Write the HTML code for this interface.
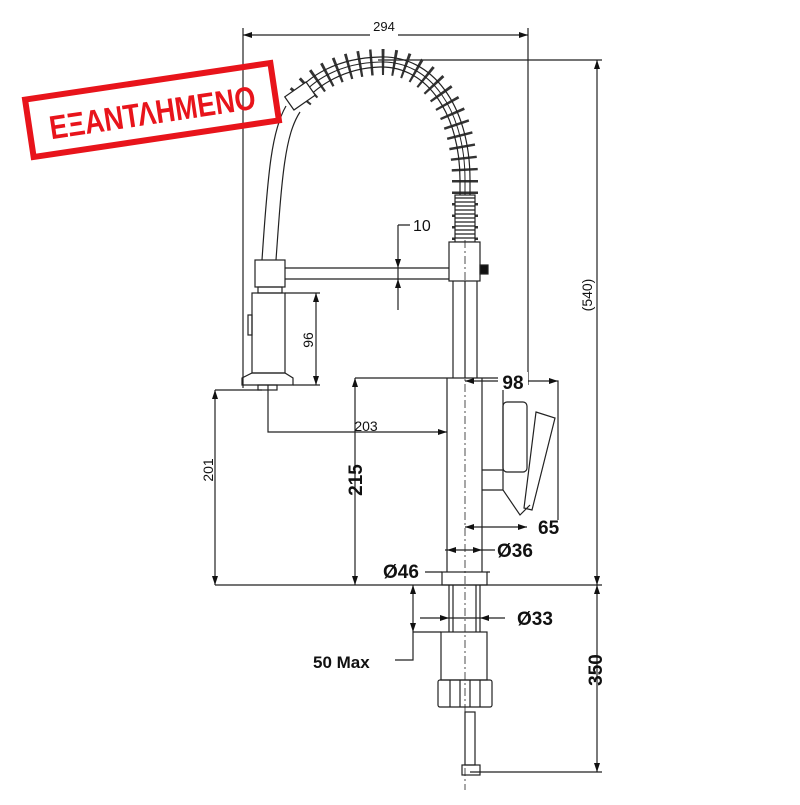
<!DOCTYPE html>
<html><head><style>html,body{margin:0;padding:0;background:#fff}</style></head><body>
<svg width="800" height="800" viewBox="0 0 800 800" xmlns="http://www.w3.org/2000/svg" font-family="Liberation Sans, Arial, sans-serif">
<g stroke="#222" fill="none" stroke-width="1.2">
<line x1="243" y1="28" x2="243" y2="388"/>
<line x1="528" y1="28" x2="528" y2="385"/>
<line x1="243" y1="35" x2="528" y2="35"/>
<line x1="378" y1="60" x2="602" y2="60"/>
<line x1="597" y1="60" x2="597" y2="772"/>
<line x1="215" y1="585" x2="602" y2="585"/>
<line x1="470" y1="772" x2="602" y2="772"/>
<path d="M465,240 L465,180 C465,110 430,60 380,62 C340,63 312,80 298,100" stroke="#333" stroke-width="26" stroke-dasharray="2.5 9"/>
<path d="M465,240 L465,180 C465,110 430,60 380,62 C340,63 312,80 298,100" stroke-width="1"/>
<path d="M460,240 L460,180 C460,115 428,66 380,67 C345,68 318,85 304,102"/>
<path d="M470,240 L470,180 C470,105 432,55 380,57 C338,58 308,75 292,98"/>
<rect x="455" y="195" width="20" height="47" fill="#fff"/>
<path d="M455,198 H475 M455,202 H475 M455,206 H475 M455,210 H475 M455,214 H475 M455,218 H475 M455,222 H475 M455,226 H475 M455,230 H475 M455,234 H475 M455,238 H475"/>
<g transform="translate(300,96) rotate(-35)"><rect x="-13" y="-8" width="26" height="16" fill="#fff"/></g>
<path d="M286,106 C272,130 268,170 262,260"/>
<path d="M300,112 C285,135 282,175 276,260"/>
<rect x="449" y="242" width="31" height="39" fill="#fff"/>
<rect x="480" y="265" width="8" height="9" fill="#111"/>
<rect x="255" y="260" width="30" height="27" fill="#fff"/>
<path d="M285,268 H449 M285,279 H449"/>
<rect x="258" y="287" width="24" height="6"/>
<rect x="252" y="293" width="33" height="80"/>
<rect x="248" y="315" width="4" height="20"/>
<path d="M252,373 H285 L293,378 V385 H242 V378 Z"/>
<rect x="258" y="385" width="19" height="5"/>
<path d="M453,281 V378 M465,281 V378 M477,281 V378"/>
<path d="M447,378 V572 M482,378 V572 M447,378 H482"/>
<path d="M482,378 H503 V470 H482 M482,490 H503"/>
<rect x="503" y="402" width="24" height="70" rx="4"/>
<path d="M536,412 L555,418 L532,510 L524,508 Z"/>
<path d="M503,470 V490 L520,515 L530,505"/>
<rect x="442" y="572" width="45" height="13"/>
<path d="M449,585 V632 M480,585 V632 M453,585 V632 M476,585 V632"/>
<rect x="441" y="632" width="46" height="48"/>
<rect x="438" y="680" width="54" height="27" rx="2"/>
<path d="M450,680 V707 M460,680 V707 M470,680 V707 M480,680 V707"/>
<rect x="465" y="712" width="10" height="53"/>
<rect x="462" y="765" width="18" height="10"/>
<line x1="465" y1="240" x2="465" y2="790" stroke-dasharray="8 3 2 3" stroke-width="0.8"/>
<path d="M398,225 V310 M398,225 H410"/>
<path d="M285,293 H320 M293,385 H320 M316,293 V385"/>
<path d="M268,385 V432 H447"/>
<path d="M215,390 H262 M215,390 V585"/>
<path d="M355,378 H447 M355,378 V585"/>
<path d="M465,381 H558 V520"/>
<path d="M465,527 H527"/>
<path d="M445,550 H495"/>
<path d="M425,572 H442 M487,572 H490"/>
<path d="M420,618 H505"/>
<path d="M413,585 V660 H395 M413,632 H441"/>
</g>
<g fill="#111">
<path d="M398,268 l-3,-9 h6z M398,279 l-3,9 h6z M316,293 l-3,9 h6z M316,385 l-3,-9 h6z M447,432 l-9,-3 v6z M215,390 l-3,9 h6z M215,585 l-3,-9 h6z M355,378 l-3,9 h6z M355,585 l-3,-9 h6z M465,381 l9,-3 v6z M558,381 l-9,-3 v6z M465,527 l9,-3 v6z M527,527 l-9,-3 v6z M447,550 l9,-3 v6z M482,550 l-9,-3 v6z M449,618 l-9,-3 v6z M480,618 l9,-3 v6z M413,585 l-3,9 h6z M413,632 l-3,-9 h6z M597,60 l-3,9 h6z M597,585 l-3,-9 h6z M597,585 l-3,9 h6z M597,772 l-3,-9 h6z M243,35 l9,-3 v6z M528,35 l-9,-3 v6z"/>
</g>
<g fill="#111" font-size="14">
<rect x="370" y="20" width="28" height="16" fill="#fff"/>
<text x="384" y="31" text-anchor="middle" font-size="13">294</text>
<text x="413" y="231" font-size="16">10</text>
<text x="366" y="431" text-anchor="middle" font-size="14">203</text>
<text transform="translate(313,340) rotate(-90)" text-anchor="middle" font-size="14">96</text>
<text transform="translate(213,470) rotate(-90)" text-anchor="middle" font-size="14">201</text>
<text transform="translate(592,295) rotate(-90)" text-anchor="middle" font-size="14">(540)</text>
<g font-weight="bold" font-size="19">
<text transform="translate(362,480) rotate(-90)" text-anchor="middle">215</text>
<text transform="translate(602,670) rotate(-90)" text-anchor="middle">350</text>
<rect x="498" y="372" width="30" height="18" fill="#fff"/>
<text x="513" y="389" text-anchor="middle">98</text>
<text x="538" y="534">65</text>
<text x="497" y="557">Ø36</text>
<text x="383" y="578">Ø46</text>
<text x="517" y="625">Ø33</text>
<text x="313" y="668" font-size="17">50 Max</text>
</g>
</g>
<g transform="rotate(-8.5 152 110)">
<rect x="28" y="81" width="248" height="58" fill="none" stroke="#e8141b" stroke-width="6"/>
<text x="152" y="124" text-anchor="middle" fill="#e8141b" font-size="33" font-weight="bold" textLength="208" lengthAdjust="spacingAndGlyphs">ΕΞΑΝΤΛΗΜΕΝΟ</text>
</g>
</svg>
</body></html>
